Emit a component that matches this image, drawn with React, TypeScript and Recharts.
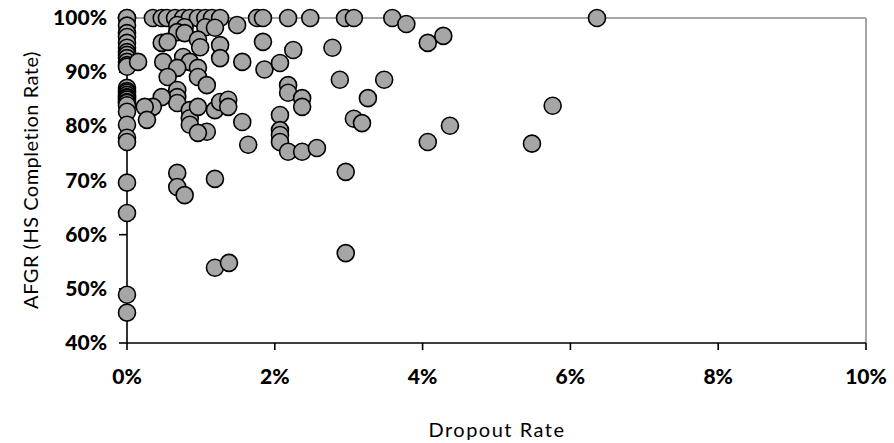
import { ReferenceLine, Scatter, ScatterChart, XAxis, YAxis } from "recharts";

// schools with 0% dropout rate (AFGR %)
const zeroDropoutAfgr = [
  100, 100, 98.6, 97.2, 96.5, 95.4, 94.5, 93.7, 93.2, 92.6, 91.9, 91.3, 91,
  87.1, 86.5, 86.2, 85.8, 85.4, 85.2, 84.9, 84.5, 84.3, 83.9, 82.7, 80.3,
  77.9, 77.1, 69.6, 64, 48.9, 45.6,
];

// schools at 100% AFGR (dropout %)
const fullAfgrDropout = [
  0.35, 0.47, 0.54, 0.65, 0.76, 0.85, 0.96, 1.06, 1.15, 1.26, 1.76, 1.84,
  2.18, 2.48, 2.95, 3.07, 3.59, 6.36,
];

// remaining schools: dropout % and AFGR %
const otherDropout = [
  0.68, 0.78, 0.68, 0.78, 1.06, 1.19, 1.49, 3.78,
  0.47, 0.55, 0.96, 0.99, 1.26, 1.26, 0.15, 0.49, 0.76, 0.85, 0.96, 0.68,
  0.55, 0.96, 1.08, 1.56, 1.84, 1.86, 2.07, 2.18, 2.18, 2.25, 2.78, 4.07, 4.28,
  0.68, 0.68, 0.68, 0.47, 0.35, 0.24, 0.27, 0.85, 0.85, 0.85, 0.96, 1.19,
  1.26, 1.37, 1.37, 1.08, 0.96, 1.56, 1.64,
  2.07, 2.07, 2.07, 2.07, 2.18, 2.37, 2.37, 2.37, 2.57,
  2.88, 3.48, 3.26, 3.07, 3.18, 4.37, 4.07, 2.96, 2.96, 5.76, 5.48,
  0.68, 0.68, 0.78, 1.19, 1.19, 1.38,
];
const otherAfgr = [
  98.7, 98.3, 97.4, 97.2, 98.3, 98.2, 98.7, 98.9,
  95.4, 95.6, 96, 94.6, 95, 92.6, 91.9, 91.9, 92.8, 91.9, 90.8, 90.8,
  89.1, 89.1, 87.6, 91.9, 95.6, 90.5, 91.7, 87.6, 86.2, 94.1, 94.5, 95.4, 96.7,
  86.7, 85.4, 84.3, 85.4, 83.6, 83.6, 81.2, 83, 81.5, 80.3, 83.6, 83,
  84.5, 84.9, 83.6, 79, 78.8, 80.8, 76.6,
  82.1, 79.3, 78.4, 77.1, 75.3, 85.2, 83.6, 75.3, 76,
  88.6, 88.6, 85.2, 81.4, 80.6, 80.1, 77.1, 71.6, 56.6, 83.8, 76.8,
  71.4, 68.8, 67.3, 70.3, 53.9, 54.8,
];

const xTicks = [0, 2, 4, 6, 8, 10];
const yTicks = [40, 50, 60, 70, 80, 90, 100];

const points = [
  ...zeroDropoutAfgr.map((y) => ({ x: 0, y })),
  ...fullAfgrDropout.map((x) => ({ x, y: 100 })),
  ...otherDropout.map((x, i) => ({ x, y: otherAfgr[i] })),
];

const font = "Lato, 'Open Sans', sans-serif";

const Dot = (props: any) => (
  <circle cx={props.cx} cy={props.cy} r={8.5} fill="#a6a6a6" stroke="#000" strokeWidth={1.6} />
);

const XTick = ({ x, y, payload }: any) => (
  <text x={x} y={y + 32} textAnchor="middle" fontFamily={font} fontWeight="900" fontSize={21} fill="#000">
    {payload.value}%
  </text>
);

const YTick = ({ x, y, payload }: any) => (
  <text x={x - 10} y={y + 7} textAnchor="end" fontFamily={font} fontWeight="900" fontSize={21} fill="#000">
    {payload.value}%
  </text>
);

export default function App() {
  return (
    <div style={{ position: "absolute", left: 0, top: 0, background: "#fff" }}>
      <ScatterChart width={894} height={443} margin={{ top: 18, right: 28, bottom: 0, left: 0 }}>
        <XAxis
          type="number"
          dataKey="x"
          domain={[0, 10]}
          ticks={xTicks}
          interval={0}
          height={100}
          stroke="#000"
          strokeWidth={1.6}
          tickSize={7}
          tick={<XTick />}
          label={{
            content: () => (
              <text x={497} y={437} textAnchor="middle" fontFamily={font} fontSize={20} fill="#000" letterSpacing={1.5}>
                Dropout Rate
              </text>
            ),
          }}
        />
        <YAxis
          type="number"
          dataKey="y"
          domain={[40, 100]}
          ticks={yTicks}
          interval={0}
          width={127}
          stroke="#000"
          strokeWidth={1.6}
          tickSize={8}
          tick={<YTick />}
          label={{
            content: () => (
              <text
                x={30}
                y={180}
                transform="rotate(-90 30 180)"
                textAnchor="middle"
                dominantBaseline="central"
                fontFamily={font}
                fontSize={20}
                fill="#000"
                letterSpacing={0.5}
              >
                AFGR (HS Completion Rate)
              </text>
            ),
          }}
        />
        <ReferenceLine y={100} stroke="#a6a6a6" strokeWidth={2} />
        <ReferenceLine x={10} stroke="#a6a6a6" strokeWidth={2} />
        <Scatter data={points} shape={<Dot />} isAnimationActive={false} />
      </ScatterChart>
    </div>
  );
}
